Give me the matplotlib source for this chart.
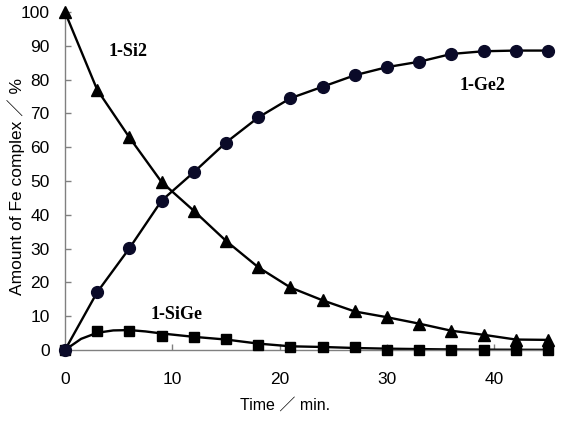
import matplotlib
matplotlib.use("Agg")
import matplotlib.pyplot as plt

time = [0, 3, 6, 9, 12, 15, 18, 21, 24, 27, 30, 33, 36, 39, 42, 45]
ge2 = [0, 17.1, 30.1, 44.2, 52.6, 61.4, 68.8, 74.5, 77.9, 81.3, 83.7, 85.3, 87.6, 88.4, 88.6, 88.6]
si2 = [100, 77.0, 62.9, 49.7, 41.2, 32.3, 24.5, 18.5, 14.7, 11.4, 9.7, 7.8, 5.7, 4.5, 3.1, 3.0]
sige = [0, 5.6, 5.7, 4.1, 4.0, 3.2, 1.6, 1.0, 1.0, 0.9, 0.1, 0.1, 0.1, 0.1, 0.1, 0.1]

# fitted curve for 1-SiGe
sige_fit_t = [0, 1.5, 3, 4.5, 6, 7.5, 9, 10.5, 12, 15, 18, 21, 24, 27, 30, 35, 40, 45]
sige_fit = [0, 3.3, 5.1, 5.8, 5.9, 5.5, 4.9, 4.4, 3.9, 3.1, 1.9, 1.1, 0.9, 0.6, 0.4, 0.2, 0.1, 0.05]

xticks = [0, 10, 20, 30, 40]
yticks = list(range(0, 101, 10))

fig = plt.figure(figsize=(5.67, 4.30), dpi=100)
ax = fig.add_axes([0.1146, 0.186, 0.852, 0.786])

lc = "black"
ax.plot(time, si2, color=lc, lw=1.7, zorder=2, clip_on=False)
ax.plot(time, ge2, color=lc, lw=1.7, zorder=2, clip_on=False)
ax.plot(sige_fit_t, sige_fit, color=lc, lw=1.7, zorder=2, clip_on=False)

ax.plot(time, si2, ls="none", marker="^", ms=8.5, color="black", zorder=3, clip_on=False)
ax.plot(time, sige, ls="none", marker="s", ms=7.5, color="black", zorder=3, clip_on=False)
ax.plot(time, ge2, ls="none", marker="o", ms=8.5, color="#0a0a28", zorder=4, clip_on=False)

ax.set_xlim(0, 45)
ax.set_ylim(0, 100)
ax.set_xticks(xticks)
ax.set_yticks(yticks)

for s in ["top", "right"]:
    ax.spines[s].set_visible(False)
for s in ["left", "bottom"]:
    ax.spines[s].set_color("#808080")
    ax.spines[s].set_linewidth(1.0)

ax.tick_params(axis="both", direction="in", color="#808080", length=4.5, width=1.0,
               labelsize=12.5, labelcolor="black")
ax.tick_params(axis="x", pad=16)
ax.tick_params(axis="y", pad=11)
for lab in ax.get_xticklabels() + ax.get_yticklabels():
    lab.set_family(["Liberation Sans", "DejaVu Sans"])

lab_font = ["Liberation Sans", "Noto Sans CJK JP", "DejaVu Sans"]
ax.set_xlabel("Time \uff0f min.", fontsize=11.5, family=lab_font)
ax.set_ylabel("Amount of Fe complex \uff0f %", fontsize=12.5, family=lab_font)
ax.xaxis.set_label_coords(0.455, -0.142)
ax.yaxis.set_label_coords(-0.083, 0.485)

tfont = dict(family=["Liberation Serif", "DejaVu Serif"], fontweight="bold", fontsize=13,
             ha="center", va="center")
ax.text(5.9, 88.2, "1-Si2", **tfont)
ax.text(38.9, 78.4, "1-Ge2", **tfont)
ax.text(10.4, 10.4, "1-SiGe", **tfont)

fig.savefig("out.png", dpi=100)
